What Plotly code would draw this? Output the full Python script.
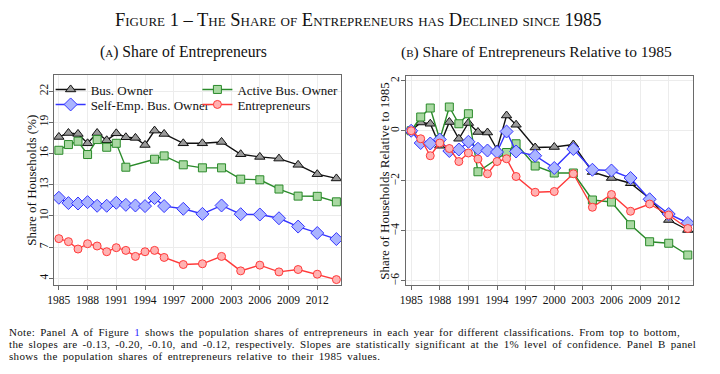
import plotly.graph_objects as go

years = [1985, 1986, 1987, 1988, 1989, 1990, 1991, 1992, 1993, 1994, 1995, 1996,
         1998, 2000, 2002, 2004, 2006, 2008, 2010, 2012, 2014]

# Panel A: share of households (%)
bus_owner = [17.59, 17.97, 17.88, 16.98, 17.97, 17.27, 17.94, 17.56, 17.50, 16.82, 18.20, 17.88,
             16.98, 16.98, 17.11, 15.93, 15.67, 15.51, 14.91, 14.01, 13.60]
active_owner = [16.31, 16.86, 17.18, 15.90, 17.34, 16.60, 16.98, 14.68, None, None, 15.45, 15.77,
                14.91, 14.62, 14.62, 13.53, 13.47, 12.58, 11.90, 11.88, 11.35]
self_emp = [11.74, 11.23, 11.19, 11.32, 10.97, 10.97, 11.26, 11.06, 11.00, 10.94, 11.71, 10.94,
            10.68, 10.19, 11.00, 10.16, 10.13, 9.77, 8.97, 8.35, 7.77]
entrepreneurs = [7.81, 7.52, 6.81, 7.32, 7.10, 6.55, 6.94, 6.68, 6.10, 6.55, 6.68, 6.00,
                 5.32, 5.39, 6.10, 4.71, 5.26, 4.61, 4.84, 4.39, 3.87]

# Panel B: relative to 1985 (percentage points)
rel_bus_owner = [0, 0.33, 0.28, -0.60, 0.35, -0.32, 0.31, -0.05, -0.07, -0.75, 0.61, 0.24,
                 -0.67, -0.65, -0.55, -1.65, -1.89, -2.10, -2.71, -3.57, -3.97]
rel_active_owner = [0, 0.55, 0.91, -0.35, 0.95, 0.28, 0.68, -1.64, None, None, -0.87, -0.52,
                    -1.41, -1.69, -1.69, -2.77, -2.85, -3.76, -4.44, -4.50, -4.97]
rel_self_emp = [0, -0.49, -0.51, -0.35, -0.81, -0.75, -0.44, -0.72, -0.79, -0.85, -0.03, -0.83,
                -1.00, -1.49, -0.73, -1.56, -1.59, -1.89, -2.74, -3.33, -3.69]
rel_entrepreneurs = [0, -0.32, -1.00, -0.49, -0.71, -1.23, -0.89, -1.13, -1.72, -1.23, -1.12, -1.83,
                     -2.46, -2.43, -1.72, -3.06, -2.55, -3.22, -2.93, -3.37, -3.91]

series_names = ["Bus. Owner", "Active Bus. Owner", "Self-Emp. Bus. Owner", "Entrepreneurs"]
x_ticks = [1985, 1988, 1991, 1994, 1997, 2000, 2003, 2006, 2009, 2012]
y_ticks_a = [4, 7, 10, 13, 16, 19, 22]
y_ticks_b = [-6, -4, -2, 0, 2]

styles = [
    dict(line="#111111", fill="#9a9a9a", symbol="triangle-up", size=9),
    dict(line="#2a8a2a", fill="#a9d8a2", symbol="square", size=8),
    dict(line="#3535ff", fill="#aab4ff", symbol="diamond", size=10),
    dict(line="#ff3a3a", fill="#ffb2b2", symbol="circle", size=8),
]

SERIF = "Liberation Serif"

W, H = 720, 374
def px(v): return v / W
def py(v): return 1 - v / H

# legend positions (px): two columns, two rows
legend_pos = [(45, 89.5), (193, 89.5), (45, 104.5), (193, 104.5)]
legend_ids = ["legend", "legend2", "legend3", "legend4"]

fig = go.Figure()

panel_a = [bus_owner, active_owner, self_emp, entrepreneurs]
panel_b = [rel_bus_owner, rel_active_owner, rel_self_emp, rel_entrepreneurs]

for name, vals, st, lid in zip(series_names, panel_a, styles, legend_ids):
    fig.add_trace(go.Scatter(
        x=years, y=vals, name=name, mode="lines+markers", connectgaps=True,
        line=dict(color=st["line"], width=1.4),
        marker=dict(symbol=st["symbol"], size=st["size"], color=st["fill"],
                    line=dict(color=st["line"], width=1)),
        xaxis="x", yaxis="y", showlegend=True, legend=lid))

for name, vals, st in zip(series_names, panel_b, styles):
    fig.add_trace(go.Scatter(
        x=years, y=vals, name=name, mode="lines+markers", connectgaps=True,
        line=dict(color=st["line"], width=1.4),
        marker=dict(symbol=st["symbol"], size=st["size"], color=st["fill"],
                    line=dict(color=st["line"], width=1)),
        xaxis="x2", yaxis="y2", showlegend=False))

axis_common = dict(
    showline=True, mirror=True, linecolor="#6a6a6a", linewidth=1.2,
    showgrid=True, gridcolor="#ececec", gridwidth=1,
    ticks="outside", ticklen=4, tickcolor="#6a6a6a",
    zeroline=False, tickfont=dict(family=SERIF, size=11.5, color="#111"),
)

layout_legends = {}
for lid, (lx, ly) in zip(legend_ids, legend_pos):
    layout_legends[lid] = dict(
        x=px(lx), y=py(ly), xanchor="left", yanchor="middle",
        bgcolor="rgba(0,0,0,0)", borderwidth=0,
        font=dict(family=SERIF, size=13, color="#111"))

fig.update_layout(
    width=W, height=H,
    margin=dict(l=0, r=0, t=0, b=0),
    paper_bgcolor="white", plot_bgcolor="white",
    font=dict(family=SERIF, color="#111"),
    xaxis=dict(domain=[px(48), px(338)], range=[1984.45, 2014.5], tickvals=x_ticks,
               anchor="y", **axis_common),
    yaxis=dict(domain=[py(285), py(75)], range=[3.35, 23.55], tickvals=y_ticks_a,
               tickangle=-90, anchor="x", ticklabelstandoff=-4, **axis_common),
    xaxis2=dict(domain=[px(403), px(693)], range=[1984.42, 2014.57], tickvals=x_ticks,
                anchor="y2", **axis_common),
    yaxis2=dict(domain=[py(285), py(76)], range=[-6.17, 2.19], tickvals=y_ticks_b,
                tickangle=-90, anchor="x2", ticklabelstandoff=-3, **axis_common),
    **layout_legends,
)

SP = '<span style="letter-spacing:0.33px;word-spacing:2px">'
note_lines = [
    SP + 'Note: Panel A of Figure </span><span style="color:#2a2aff;letter-spacing:0.33px">1</span>'
    + SP + ' shows the population shares of entrepreneurs in each year for different classifications. From top to bottom,</span>',
    SP + 'the slopes are -0.13, -0.20, -0.10, and -0.12, respectively. Slopes are statistically significant at the 1% level of confidence. Panel B panel</span>',
    SP + 'shows the population shares of entrepreneurs relative to their 1985 values.</span>',
]
note_y = [331.5, 343.8, 356.1]

annotations = [
    dict(text="Figure 1 – The Share of Entrepreneurs has Declined since 1985",
         x=px(355.5), y=py(20), xanchor="center", yanchor="middle",
         font=dict(family=SERIF, size=18.5, variant="small-caps", color="#111")),
    dict(text='(<span style="font-variant:small-caps">a</span>) Share of Entrepreneurs',
         x=px(93), y=py(52), xanchor="left", yanchor="middle",
         font=dict(family=SERIF, size=15.7, color="#111")),
    dict(text='(<span style="font-variant:small-caps">b</span>) Share of Entrepreneurs Relative to 1985',
         x=px(396), y=py(52), xanchor="left", yanchor="middle",
         font=dict(family=SERIF, size=15.5, color="#111")),
    dict(text="Share of Households (%)", textangle=-90,
         x=px(26), y=py(180), xanchor="center", yanchor="middle",
         font=dict(family=SERIF, size=13, color="#111")),
    dict(text="Share of Households Relative to 1985", textangle=-90,
         x=px(382), y=py(181), xanchor="center", yanchor="middle",
         font=dict(family=SERIF, size=13, color="#111")),
]
for line, ly in zip(note_lines, note_y):
    annotations.append(dict(text=line, x=px(1), y=py(ly), xanchor="left", yanchor="middle",
                            align="left", font=dict(family=SERIF, size=11, color="#111")))
for a in annotations:
    a.update(xref="paper", yref="paper", showarrow=False)
fig.update_layout(annotations=annotations)

fig.write_html("out.html", config={"displayModeBar": False},
               post_script="document.body.style.margin='0';document.body.style.padding='0';")
